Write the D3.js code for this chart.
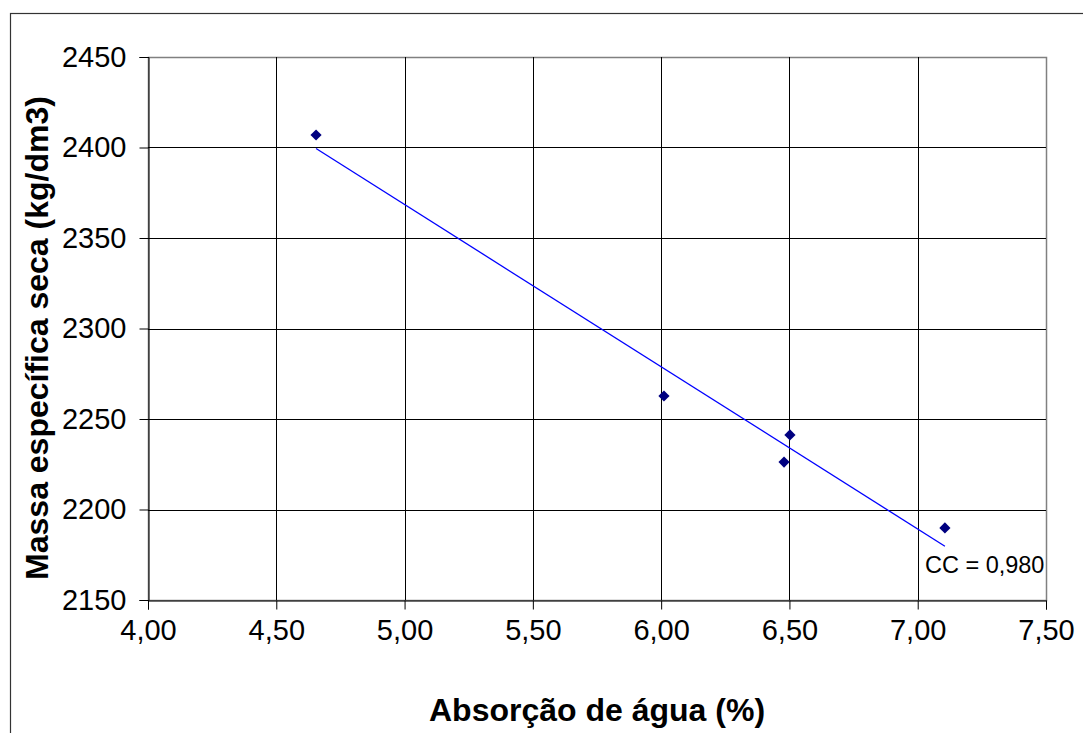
<!DOCTYPE html>
<html>
<head>
<meta charset="utf-8">
<script src="https://cdn.jsdelivr.net/npm/d3@7"></script>
<style>
  body { margin: 0; background: #fff; }
  text { font-family: "Liberation Sans", Arial, sans-serif; }
</style>
</head>
<body>
<div id="chart"></div>
<script>
// Data
const absorcao = [4.655, 6.011, 6.502, 6.479, 7.106];
const massa = [2406.9, 2262.7, 2241.2, 2226.2, 2189.8];
const xTicks = [4.0, 4.5, 5.0, 5.5, 6.0, 6.5, 7.0, 7.5];
const yTicks = [2150, 2200, 2250, 2300, 2350, 2400, 2450];
const ccLabel = "CC = 0,980";

const W = 1083, H = 733;
const plot = { left: 148, top: 57, right: 1046, bottom: 600 };

const svg = d3.select("#chart").append("svg")
    .attr("width", W)
    .attr("height", H);

// outer chart frame (open on right and bottom, cut by the picture edge)
svg.append("rect")
    .attr("x", 10.5).attr("y", 13.5)
    .attr("width", 1200).attr("height", 900)
    .attr("fill", "#fff")
    .attr("stroke", "#333")
    .attr("stroke-width", 1.2);

const x = d3.scaleLinear().domain([4, 7.5]).range([plot.left, plot.right]);
const y = d3.scaleLinear().domain([2150, 2450]).range([plot.bottom, plot.top]);

const fmtX = v => d3.format(".2f")(v).replace(".", ",");

// plot area border
svg.append("rect")
    .attr("x", plot.left + 0.5).attr("y", plot.top + 0.5)
    .attr("width", plot.right - plot.left).attr("height", plot.bottom - plot.top)
    .attr("fill", "none")
    .attr("stroke", "#808080")
    .attr("stroke-width", 1.5);

// gridlines
svg.append("g").selectAll("line")
    .data(xTicks.slice(1, -1))
    .join("line")
    .attr("x1", d => Math.round(x(d)) + 0.5).attr("x2", d => Math.round(x(d)) + 0.5)
    .attr("y1", plot.top).attr("y2", plot.bottom)
    .attr("stroke", "#000");

svg.append("g").selectAll("line")
    .data(yTicks.slice(1, -1))
    .join("line")
    .attr("x1", plot.left).attr("x2", plot.right)
    .attr("y1", d => Math.round(y(d)) + 0.5).attr("y2", d => Math.round(y(d)) + 0.5)
    .attr("stroke", "#000");

// Y axis
const yAxis = d3.axisLeft(y).tickValues(yTicks).tickSize(9).tickPadding(13).tickFormat(d3.format("d"));
const yNode = svg.append("g")
    .attr("transform", "translate(" + (plot.left + 0.5) + ",0)")
    .call(yAxis);
yNode.select(".domain").attr("stroke", "#000");
yNode.selectAll("line").attr("stroke", "#000");
yNode.selectAll("text")
    .style("font-family", "Liberation Sans, Arial, sans-serif")
    .style("font-size", "29px")
    .attr("fill", "#000");

// X axis
const xAxis = d3.axisBottom(x).tickValues(xTicks).tickSize(9).tickPadding(10).tickFormat(fmtX);
const xNode = svg.append("g")
    .attr("transform", "translate(0," + (plot.bottom + 0.5) + ")")
    .call(xAxis);
xNode.select(".domain").attr("stroke", "#000");
xNode.selectAll("line").attr("stroke", "#000");
xNode.selectAll("text")
    .style("font-family", "Liberation Sans, Arial, sans-serif")
    .style("font-size", "29px")
    .attr("fill", "#000");

// linear trend line (least squares over the points)
const mx = d3.mean(absorcao), my = d3.mean(massa);
const sxy = d3.sum(absorcao, (v, i) => (v - mx) * (massa[i] - my));
const sxx = d3.sum(absorcao, v => (v - mx) * (v - mx));
const slope = sxy / sxx;
const intercept = my - slope * mx;
const [xmin, xmax] = d3.extent(absorcao);
const trend = [xmin, xmax].map(v => ({ x: v, y: intercept + slope * v }));

svg.append("path")
    .attr("d", d3.line().x(d => x(d.x)).y(d => y(d.y))(trend))
    .attr("fill", "none")
    .attr("stroke", "#0000ff")
    .attr("stroke-width", 1.3);

// points
svg.append("g").selectAll("path")
    .data(absorcao.map((v, i) => ({ x: v, y: massa[i] })))
    .join("path")
    .attr("transform", d => "translate(" + x(d.x) + "," + y(d.y) + ")")
    .attr("d", d3.symbol(d3.symbolDiamond2, 80)())
    .attr("fill", "#000080");

// correlation label near the end of the trend line
svg.append("text")
    .attr("x", x(xmax) - 20)
    .attr("y", y(trend[1].y) + 27)
    .attr("font-size", 23.5)
    .attr("fill", "#000")
    .text(ccLabel);

// axis titles
svg.append("text")
    .attr("x", 597)
    .attr("y", 721)
    .attr("text-anchor", "middle")
    .attr("font-size", 32)
    .attr("font-weight", "bold")
    .text("Absorção de água (%)");

svg.append("text")
    .attr("transform", "translate(48,338) rotate(-90)")
    .attr("text-anchor", "middle")
    .attr("font-size", 32)
    .attr("font-weight", "bold")
    .text("Massa específica seca (kg/dm3)");
</script>
</body>
</html>
